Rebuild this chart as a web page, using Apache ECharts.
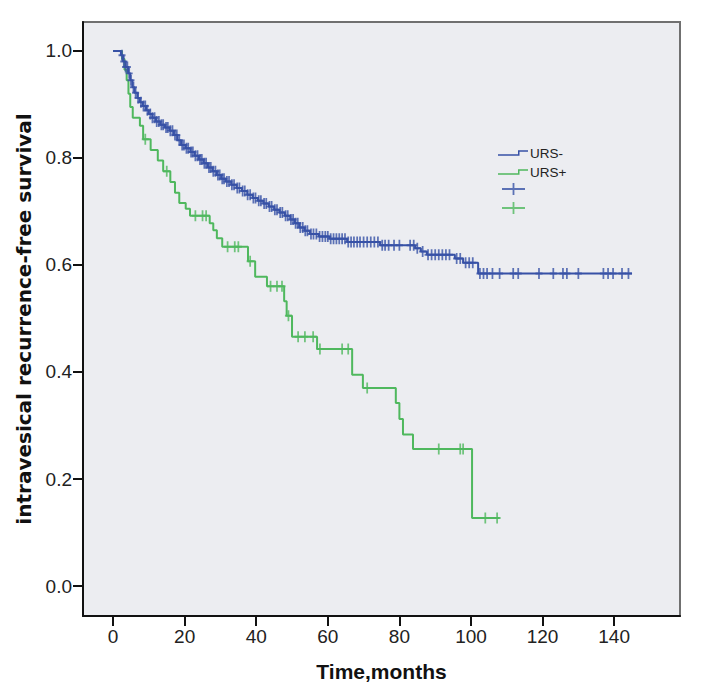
<!DOCTYPE html>
<html>
<head>
<meta charset="utf-8">
<script src="https://cdn.jsdelivr.net/npm/echarts@6/dist/echarts.min.js"></script>
<style>
  html, body { margin: 0; padding: 0; background: #ffffff; }
  #chart { width: 719px; height: 690px; }
</style>
</head>
<body>
<div id="chart"></div>
<script>
// ---- data (Kaplan-Meier steps) ----
const xTicks = [0, 20, 40, 60, 80, 100, 120, 140];
const yTicks = [0, 0.2, 0.4, 0.6, 0.8, 1.0];

const seriesNames = ['URS-', 'URS+'];

// URS- : step times (months) and survival after each step
const ursNegTime = [0, 2.2, 2.8, 3.5, 4.2, 4.8, 5.4, 6.0, 6.8, 7.5, 8.3, 9.2, 10.0, 11.0, 12.0, 13.2, 14.5, 15.8, 17.0, 18.0,
  19.0, 20.3, 21.6, 22.8, 24.0, 25.3, 26.5, 27.8, 29.0, 30.2, 31.5, 33.0, 34.5, 36.0, 37.5, 39.0, 40.5, 42.0, 43.5, 45.0,
  46.5, 48.0, 49.5, 50.8, 52.0, 53.5, 55.0, 57.5, 60.5, 65.4, 74.6, 84.4, 86.0, 87.7, 95.5, 97.8, 102.0];
const ursNegSurv = [1.0, 0.992, 0.980, 0.970, 0.958, 0.945, 0.932, 0.922, 0.912, 0.904, 0.897, 0.889, 0.882, 0.875, 0.868, 0.862, 0.857, 0.851, 0.843, 0.833,
  0.824, 0.818, 0.811, 0.804, 0.797, 0.790, 0.782, 0.775, 0.768, 0.761, 0.756, 0.750, 0.744, 0.738, 0.731, 0.725, 0.720, 0.715, 0.709, 0.703,
  0.698, 0.692, 0.685, 0.678, 0.670, 0.664, 0.658, 0.653, 0.649, 0.643, 0.637, 0.631, 0.625, 0.619, 0.612, 0.604, 0.584];
const ursNegEnd = 145;
const ursNegCensor = [2.5, 3, 3.5, 4, 4.5, 5, 5.7, 6.3, 7, 7.8, 8.5, 9, 9.6, 10.4, 11, 11.6, 12.2, 12.8, 13.5, 14, 14.8,
  15.3, 16, 16.6, 17.3, 17.8, 18.5, 19.3, 19.8, 20.5, 21, 21.8, 22.3, 23, 23.6, 24.3, 24.8, 25.5, 26, 26.8, 27.3, 28, 28.6,
  29.3, 29.8, 30.5, 31, 31.8, 32.4, 33.2, 33.8, 34.7, 35.3, 36.2, 36.8, 37.6, 38.3, 39.2, 39.8, 40.7, 41.3, 42.2, 42.8,
  43.7, 44.3, 45.2, 45.8, 46.7, 47.3, 48.2, 48.8, 49.7, 50.3, 51, 51.6, 52.3, 53, 53.7, 54.3, 55.3, 56, 56.8, 57.7, 58.5,
  59.3, 60, 60.8, 61.6, 62.4, 63.2, 64, 64.8, 65.7, 66.5, 67.3, 68.2, 69, 70, 71, 72, 73, 74, 75.2, 76, 77, 78.5,
  80, 83, 84, 85, 86.5, 88, 89, 90, 91, 92, 93, 94, 96, 97, 98.5, 99.5, 100.5, 102.5, 103.5, 104.5, 106, 108, 111.8,
  113.2, 119, 123, 125.7, 126.8, 130, 137, 138.3, 139.7, 142.2, 144];

// URS+ : step times (months) and survival after each step
const ursPosTime = [0, 2.5, 3.2, 3.8, 4.3, 4.8, 5.5, 7.5, 8.4, 10.5, 12.5, 14, 16, 17.3, 18.5, 20.3, 21.5, 27, 28, 29, 30.5,
  37.7, 39.7, 43, 47.8, 48.5, 50, 57, 66.8, 69.8, 79, 80, 81, 83.8, 100.3];
const ursPosSurv = [1.0, 0.985, 0.965, 0.945, 0.92, 0.895, 0.875, 0.86, 0.835, 0.815, 0.795, 0.775, 0.755, 0.735, 0.716, 0.705, 0.692, 0.678, 0.665, 0.65, 0.634,
  0.607, 0.578, 0.56, 0.532, 0.505, 0.466, 0.443, 0.395, 0.37, 0.342, 0.312, 0.283, 0.256, 0.127];
const ursPosEnd = 108;
const ursPosCensor = [9, 15, 23, 25, 26, 32, 34, 35, 38.3, 44, 45.8, 47.2, 49, 51.7, 53.6, 55.9, 57.8, 64, 65.7, 71, 91, 97, 97.8, 104, 107.3];

// ---- helpers ----
function stepData(times, surv, end) {
  const d = times.map((t, i) => [t, surv[i]]);
  d.push([end, surv[surv.length - 1]]);
  return d;
}
function survAt(times, surv, t) {
  let s = surv[0];
  for (let i = 0; i < times.length; i++) { if (times[i] <= t) s = surv[i]; }
  return s;
}
function censorData(times, surv, cens) {
  return cens.map(t => [t, survAt(times, surv, t)]);
}

const BLUE = '#3751a6';
const GREEN = '#4fb85e';
const crossSym = 'path://M-0.25,-1 L0.25,-1 L0.25,-0.18 L1,-0.18 L1,0.18 L0.25,0.18 L0.25,1 L-0.25,1 L-0.25,0.18 L-1,0.18 L-1,-0.18 L-0.25,-0.18 Z';
const crossIcon = 'path://M10.6,0 L12.4,0 L12.4,5.1 L23,5.1 L23,6.9 L12.4,6.9 L12.4,12 L10.6,12 L10.6,6.9 L0,6.9 L0,5.1 L10.6,5.1 Z';
const stepIcon = 'path://M0,4 L20,4 L20,0 L30,0 L30,1.5 L21.5,1.5 L21.5,5.5 L0,5.5 Z';

const chart = echarts.init(document.getElementById('chart'), null, { renderer: 'svg' });
const tickFont = "'Liberation Sans Narrow', 'Arial Narrow', 'Liberation Sans', Arial, sans-serif";

chart.setOption({
  animation: false,
  backgroundColor: '#ffffff',
  grid: {
    left: 83, right: 39, top: 22, bottom: 74,
    show: true, backgroundColor: '#ecedf1', borderColor: '#707070', borderWidth: 2
  },
  legend: [
    {
      data: [{ name: seriesNames[0], icon: stepIcon }, { name: seriesNames[1], icon: stepIcon }],
      orient: 'vertical', left: 498, top: 145, padding: 0,
      itemWidth: 30, itemHeight: 5.5, itemGap: 3,
      selectedMode: false,
      textStyle: { fontFamily: "'Liberation Sans', Arial, sans-serif", fontSize: 13.5, color: '#222', lineHeight: 16, padding: [0, 0, 0, -3] }
    },
    {
      data: [{ name: 'URS- censored', icon: crossIcon }, { name: 'URS+ censored', icon: crossIcon }],
      orient: 'vertical', left: 502, top: 183, padding: 0,
      itemWidth: 23, itemHeight: 12, itemGap: 7,
      selectedMode: false,
      formatter: () => '',
      textStyle: { fontSize: 12 }
    }
  ],
  xAxis: {
    type: 'value', min: -8.4, max: 158.4,
    name: 'Time,months', nameLocation: 'middle', nameGap: 45,
    nameTextStyle: { fontFamily: "'Liberation Sans', Arial, sans-serif", fontWeight: 'bold', fontSize: 21, color: '#111' },
    axisLine: { show: true, onZero: false, lineStyle: { color: '#111', width: 2 } },
    axisTick: { show: true, customValues: xTicks, length: 10, lineStyle: { color: '#111', width: 2 } },
    axisLabel: { customValues: xTicks, margin: 11, fontFamily: tickFont, fontSize: 19, color: '#222' },
    splitLine: { show: false }
  },
  yAxis: {
    type: 'value', min: -0.056, max: 1.054,
    name: 'intravesical recurrence-free survival', nameLocation: 'middle', nameGap: 49, nameRotate: 90,
    nameTextStyle: { fontFamily: "'DejaVu Sans', Verdana, sans-serif", fontWeight: 'bold', fontSize: 20, color: '#111' },
    axisLine: { show: true, onZero: false, lineStyle: { color: '#111', width: 2 } },
    axisTick: { show: true, customValues: yTicks, length: 10, lineStyle: { color: '#111', width: 2 } },
    axisLabel: { customValues: yTicks, margin: 11, fontFamily: tickFont, fontSize: 19, color: '#222',
      formatter: v => v.toFixed(1) },
    splitLine: { show: false }
  },
  series: [
    {
      name: seriesNames[1], type: 'line', step: 'end', showSymbol: false,
      data: stepData(ursPosTime, ursPosSurv, ursPosEnd),
      lineStyle: { color: GREEN, width: 2 }, itemStyle: { color: GREEN }, z: 2
    },
    {
      name: seriesNames[0], type: 'line', step: 'end', showSymbol: false,
      data: stepData(ursNegTime, ursNegSurv, ursNegEnd),
      lineStyle: { color: BLUE, width: 2 }, itemStyle: { color: BLUE }, z: 3
    },
    {
      name: 'URS- censored', type: 'scatter', symbol: crossSym, symbolSize: [7, 11],
      data: censorData(ursNegTime, ursNegSurv, ursNegCensor),
      itemStyle: { color: BLUE }, z: 4
    },
    {
      name: 'URS+ censored', type: 'scatter', symbol: crossSym, symbolSize: [7, 11],
      data: censorData(ursPosTime, ursPosSurv, ursPosCensor),
      itemStyle: { color: GREEN }, z: 3
    }
  ]
});
</script>
</body>
</html>
